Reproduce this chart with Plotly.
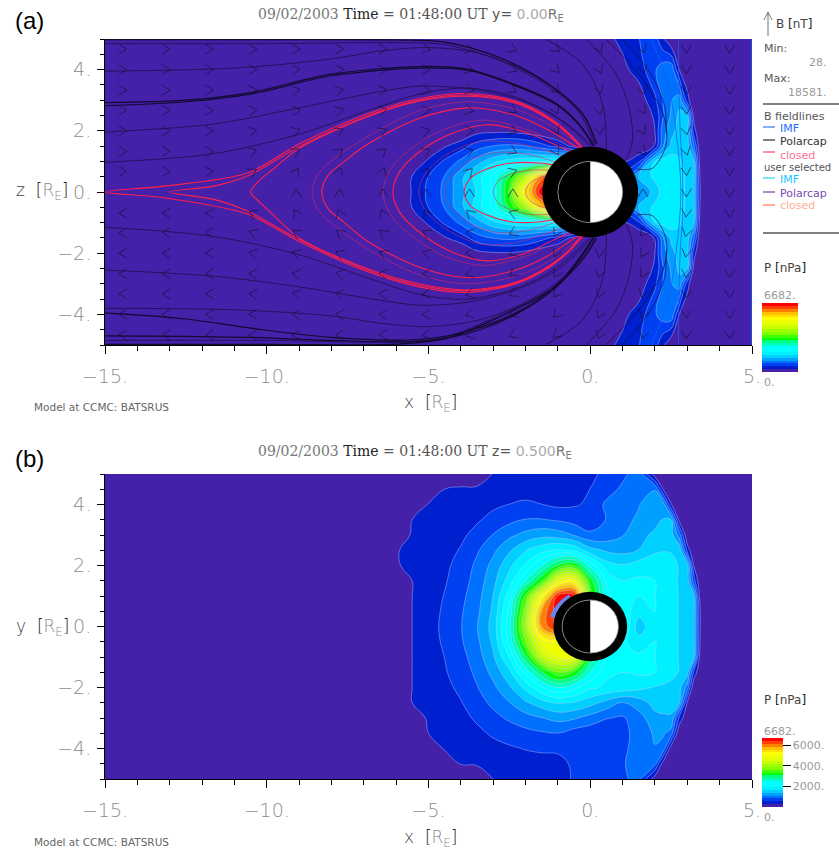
import math
import plotly.graph_objects as go

W, H = 839, 850

# ---- pressure, panel (a): P[nPa] read on an x-z grid ----
xa = [-15,-6,-5.5,-5,-4.5,-4,-3.5,-3,-2.5,-2,-1.5,-1,-.5,0,.5,1,1.5,2,2.25,2.5,2.75,3,3.2,3.4,4,5]
za = [-5,-4,-3,-2.5,-2,-1.5,-1,-.5,0,.5,1,1.5,2,2.5,3,4,5]
Pa = [
 [0,0,0,0,0,0,0,0,0,0,0,0,0,0,200,350,550, 700,300,0,0,0,0,0,0,0],
 [0,0,0,0,0,0,0,0,0,0,0,0,0,0,0,200,400, 800,1000,1050,280,0,0,0,0,0],
 [0,0,0,0,0,0,0,0,0,0,0,0,0,0,0,0,100, 500,850,1100,1300,400,0,0,0,0],
 [0,0,0,0,0,0,0,0,0,0,0,0,0,0,0,0,0, 330,800,1150,1450,1400,200,0,0,0],
 [0,0,0,0,0,0,190,240,250,180,80,0,0,0,0,0,0, 280,1000,1300,1500,1500,400,0,0,0],
 [0,0,0,0,250,420,700,850,900,850,650,450,200,0,0,0,0, 300,1100,1450,1600,1550,900,0,0,0],
 [0,0,0,340,600,900,1250,1600,1800,1900,1950,2000,1800,1200,800,200,500, 1700,1800,1850,1700,1550,1400,100,0,0],
 [0,0,290,560,850,1300,1800,2300,3100,4000,5600,6400,4000,2500,1500,800,1400, 1750,1850,1900,1800,1600,1450,200,0,0],
 [0,0,300,620,900,1300,1700,2300,3400,5300,6680,6680,4000,2500,1500,1200,1100, 1500,1800,1950,1800,1600,1450,280,0,0],
 [0,0,290,560,850,1300,1800,2300,3100,4200,6000,6680,4000,2500,1500,800,1400, 1750,1850,1900,1800,1600,1450,200,0,0],
 [0,0,0,340,600,900,1250,1600,1800,1900,1950,2000,1800,1200,800,200,500, 1700,1800,1850,1700,1550,1400,100,0,0],
 [0,0,0,0,250,420,700,850,900,850,650,450,200,0,0,0,0, 300,1100,1450,1600,1550,900,0,0,0],
 [0,0,0,0,0,0,170,200,200,130,70,0,0,0,0,0,0, 280,1000,1300,1500,1500,400,0,0,0],
 [0,0,0,0,0,0,0,0,0,0,0,0,0,0,0,0,0, 330,800,1150,1450,1400,200,0,0,0],
 [0,0,0,0,0,0,0,0,0,0,0,0,0,0,0,0,100, 500,850,1100,1300,400,0,0,0,0],
 [0,0,0,0,0,0,0,0,0,0,0,0,0,0,0,200,400, 800,1000,1050,280,0,0,0,0,0],
 [0,0,0,0,0,0,0,0,0,0,0,0,0,0,200,350,550, 700,300,0,0,0,0,0,0,0],
]

# ---- pressure, panel (b): P[nPa] read on an x-y grid ----
xb = xa
yb = [-5,-4.5,-4,-3.5,-3,-2.5,-2,-1.5,-1,-.5,0,.5,1,1.5,2,2.5,3,3.5,4,4.5,5]
Pb = [
 [0,0,0,0,0,0,0,280,320,340,360,400,600,750,800,800,900, 100,0,0,0,0,0,0,0,0],
 [0,0,0,0,100,290,320,370,400,430,450,480,600,680,750,800,1000, 900,150,0,0,0,0,0,0,0],
 [0,0,0,100,300,340,400,460,520,570,600,600,560,650,620,750,1000, 1100,1000,100,0,0,0,0,0,0],
 [0,0,0,280,340,400,490,600,680,750,800,830,700,650,600,750,950, 1150,1150,1000,0,0,0,0,0,0],
 [0,0,100,320,380,470,600,750,880,1000,1100,1200,1150,1000,850,800,1000, 1300,1350,1350,500,0,0,0,0,0],
 [0,100,280,340,430,540,720,900,1100,1350,1550,1700,1650,1500,1300,1100,1250, 1500,1500,1500,1400,250,0,0,0,0],
 [0,120,280,370,480,620,820,1050,1350,1750,2200,2500,2300,2000,1900,1850,1750, 1650,1600,1550,1500,1000,0,0,0,0],
 [0,100,280,400,530,690,900,1200,1600,2300,3000,3600,3300,2500,2000,1950,2000, 1950,1900,1800,1650,1500,500,0,0,0],
 [0,100,280,420,560,740,980,1350,1950,3000,4300,4800,4800,3000,2200,2000,2000, 1950,1900,1800,1650,1550,1400,100,0,0],
 [0,100,280,440,600,800,1050,1450,2300,3600,4900,5000,4800,3000,2300,2000,1800, 1950,1900,1800,1650,1550,1450,250,0,0],
 [0,100,280,450,620,820,1100,1500,2400,4000,5900,6500,5000,3000,2300,2300,1500, 1900,1850,1800,1650,1550,1450,280,0,0],
 [0,100,280,440,600,800,1050,1450,2300,3800,5900,6600,5500,3200,2300,2100,1800, 1950,1900,1800,1650,1550,1450,280,0,0],
 [0,100,280,420,570,760,1000,1400,2100,3400,5000,6500,6600,3500,2300,2000,1950, 1950,1900,1800,1650,1550,1400,100,0,0],
 [0,100,280,400,530,700,950,1300,1800,2500,3300,4800,5000,3200,2200,1950,2000, 1950,1850,1750,1650,1550,700,0,0,0],
 [0,270,300,370,500,650,900,1200,1600,2000,2500,3100,3300,2400,1800,1700,1800, 1900,1850,1750,1650,1550,280,0,0,0],
 [0,270,310,360,450,580,800,1050,1350,1650,1850,2000,1900,1500,1350,1300,1400, 1600,1650,1650,1600,450,0,0,0,0],
 [0,150,300,350,400,500,650,850,1050,1200,1300,1250,1100,900,950,1100,1300, 1450,1500,1500,1000,0,0,0,0,0],
 [0,0,280,330,380,430,520,650,750,850,850,800,720,650,850,1050,1150, 1300,1400,1400,200,0,0,0,0,0],
 [0,0,0,300,330,380,420,500,560,600,560,500,530,600,900,1000,1100, 1250,1300,300,0,0,0,0,0,0],
 [0,0,0,0,280,330,350,400,430,450,420,380,450,560,700,900,1000, 1100,278,0,0,0,0,0,0,0],
 [0,0,0,0,0,0,0,300,350,350,330,320,350,500,620,760,1000, 100,0,0,0,0,0,0,0,0],
]

# ---- colour levels, bottom to top of the colour bar ----
P_max = 6682
P_step = 278.4
level_colors = ["#4520A8","#0020D0","#0040F0","#0070FF","#00A0FF","#00D0FF","#00F0FF","#00FFFF",
                "#00FFFF","#00FFC0","#00FF80","#00FF00","#40FF00","#80FF00","#A0FF00","#C8FF00",
                "#E0FF00","#F0FF00","#FFFF00","#FFE000","#FFC000","#FF8000","#FF4000","#FF0000"]
cbar_ticks = [2000, 4000, 6000]
cbar_ticklabels = ["2000.", "4000.", "6000."]

# ---- field lines of panel (a): x, z above the equator, z below ----
closed_bright = [
 ([-15,-13.1,-10.6,-9,-6.9,-5.3,-3.8,-2.3,-1.25,-.64,-.23],[0,.2,.62,1.57,2.55,3.05,3.22,2.97,2.42,1.9,1.44],[0,-.2,-.72,-1.62,-2.6,-3.1,-3.28,-3,-2.45,-1.92,-1.44]),
 ([-13,-11.6,-10.6,-9,-6.9,-5.3,-3.8,-2.3,-1.25,-.64,-.23],[0,.2,.52,1.48,2.48,3,3.17,2.93,2.38,1.87,1.42],[0,-.25,-.62,-1.55,-2.55,-3.05,-3.23,-2.97,-2.42,-1.9,-1.42]),
 ([-10.5,-10.25,-9.8,-9,-6.9,-5.3,-3.8,-2.3,-1.25,-.64,-.25],[0,.35,.75,1.42,2.45,2.97,3.13,2.9,2.35,1.85,1.4],[0,-.3,-.75,-1.5,-2.5,-3,-3.2,-2.95,-2.4,-1.88,-1.4]),
 ([-8.3,-8.1,-7.6,-6.9,-5.3,-3.8,-2.3,-1.25,-.55,-.2],[0,.55,1,1.55,2.4,2.75,2.5,2,1.55,1.35],[0,-.55,-1,-1.6,-2.45,-2.8,-2.55,-2.05,-1.55,-1.35]),
 ([-6.1,-5.9,-5.3,-4.3,-3.2,-2,-1.1,-.5],[0,.65,1.3,1.9,2.2,1.95,1.55,1.25],[0,-.65,-1.3,-1.95,-2.25,-2,-1.55,-1.25]),
 ([-3.9,-3.7,-3.2,-2.4,-1.6,-.9],[0,.45,.75,.95,.95,.85],[0,-.45,-.75,-.98,-.98,-.85]),
]
closed_dim = [
 ([-8.6,-8.4,-7.9,-6.9,-5.3,-3.8,-2.3,-1.25,-.55,-.2],[0,.6,1.1,1.8,2.65,2.95,2.7,2.2,1.7,1.4],[0,-.6,-1.1,-1.85,-2.7,-3,-2.75,-2.25,-1.7,-1.4]),
 ([-6.4,-6.2,-5.5,-4.5,-3.3,-2,-1.1,-.5],[0,.7,1.45,2.05,2.35,2.05,1.65,1.3],[0,-.7,-1.45,-2.1,-2.4,-2.1,-1.65,-1.3]),
 ([-5.3,-5.1,-4.4,-3.4,-2.3,-1.2,-.7],[0,.6,1.25,1.65,1.6,1.3,1.1],[0,-.6,-1.25,-1.7,-1.65,-1.3,-1.1]),
 ([-4.5,-4.3,-3.7,-2.8,-1.8,-1],[0,.55,1.05,1.3,1.2,.95],[0,-.55,-1.05,-1.33,-1.23,-.95]),
 ([-3,-2.85,-2.4,-1.8,-1.2],[0,.35,.6,.72,.7],[0,-.35,-.6,-.74,-.72]),
 ([-2,-1.9,-1.6,-1.2],[0,.25,.45,.55],[0,-.25,-.45,-.55]),
]
polar_thick = [
 ([-15,-10,-6,-4.5,-2.8,-1.25,-.23,.2],[4.98,4.98,4.97,4.9,4.39,3.5,2.55,1.57],[-4.98,-4.98,-4.97,-4.8,-4.08,-3.23,-2.2,-1.5]),
 ([-15,-12.5,-10.5,-8,-5.3,-3.8,-2.3,-1.04,-.33,.1],[2.92,3,3.25,3.85,4.1,4.02,3.5,2.88,2.2,1.52],[-3.95,-4.15,-4.45,-4.75,-4.82,-4.55,-3.95,-3.05,-2.15,-1.48]),
 ([-15,-12.5,-10.5,-8,-5.3,-3.8,-2.3,-1.04,-.33,.1],[2.82,2.95,3.2,3.8,4.05,3.98,3.47,2.85,2.17,1.5],[-4.7,-4.72,-4.75,-4.85,-4.88,-4.62,-4,-3.1,-2.2,-1.5]),
]
polar_thin = [
 ([-15,-10,-6,-4.5,-2.8,-1.25,-.23,.15],[4.85,4.85,4.88,4.82,4.3,3.42,2.5,1.55],[-4.85,-4.85,-4.9,-4.75,-4.02,-3.18,-2.15,-1.5]),
 ([-15,-11,-8,-6.4,-5,-3.5,-2,-.9,-.25,.12],[3.95,4.05,4.35,4.62,4.72,4.55,3.95,3.2,2.45,1.53],[-3.8,-3.85,-4.05,-4.3,-4.4,-4.2,-3.6,-2.85,-2.1,-1.48]),
 ([-15,-11.66,-9,-6.4,-5.27,-3.8,-2.3,-1.1,-.4,.05],[1.96,2.22,2.75,3.3,3.46,3.38,3.05,2.5,1.95,1.5],[-2.55,-2.75,-3.1,-3.55,-3.7,-3.6,-3.2,-2.6,-2,-1.48]),
 ([-15,-11.66,-9,-6.9,-5.27,-3.8,-2.3,-1.15,-.45,0],[.97,1.25,1.89,2.65,3.2,3.4,3.1,2.5,1.95,1.48],[-1.15,-1.45,-2.05,-2.8,-3.35,-3.5,-3.15,-2.55,-1.95,-1.47]),
 ([-1.35,-.23,.38,.5],[4.98,4.17,2.87,1.4],[-4.98,-4.17,-2.87,-1.4]),
 ([-.1,.8,1.2,1.3,1.1],[4.98,3.85,2.75,1.67,1.05],[-4.98,-3.85,-2.75,-1.67,-1.05]),
 ([.5,1.5,2.25,2.35,1.93,1.43],[4.98,3.85,2.55,1.57,.78,.75],[-4.98,-3.85,-2.55,-1.57,-.78,-.75]),
 ([1,1.85,2.3,2.35],[4.98,3.9,2.8,1.9],[-4.98,-3.9,-2.8,-1.9]),
]
imf_lines = [
 ([2.73,2.73,2.78,2.85,2.85,2.78,2.73,2.73],[5,4,2,.8,-.8,-2,-4,-5]),
 ([1.9,2.4,2.65,2.8,2.65,2.4,1.9],[5,3.5,2,0,-2,-3.5,-5]),
 ([4.98,4.98],[-5,5]),
]

# ---- patch of panel (b) hugging the earth ----
patch_x = [-.62,-.85,-1.05,-1.17]
patch_y = [.98,.8,.55,.3]

# ---- direction chevrons of panel (a), angle in degrees; None = no chevron ----
chev_x = [-14.45,-13.11,-11.77,-10.43,-9.09,-7.75,-6.41,-5.07,-3.73,-2.39,-1.05,.29,1.63,2.97,4.31]
chev_z = [4.67,4,3.33,2.67,2,1.33,.67,-.03,-.69,-1.33,-2,-2.67,-3.33,-4,-4.67]
chev_angle = [
 [0,0,0,0,0,0,0,-10,-15,-25,-40,-65,-70,-90,-90],
 [0,0,0,0,5,5,5,-5,-15,-25,-45,-65,-75,-90,-90],
 [0,0,0,5,10,10,5,-5,-15,-30,-50,-70,-75,-90,-90],
 [0,0,0,5,10,15,10,0,-15,-35,-60,-75,-60,-85,-90],
 [0,0,0,10,20,25,25,15,0,-25,-65,-85,-60,-80,-90],
 [0,0,0,20,30,40,40,30,15,-25,-60,None,-45,-75,-90],
 [0,0,5,30,60,70,70,60,45,20,None,None,None,-85,-90],
 [None,None,None,None,90,90,90,90,90,90,None,None,90,-90,-90],
 [180,180,175,150,120,110,110,120,135,160,None,None,None,-95,-90],
 [180,180,180,160,150,140,140,150,165,205,240,None,225,-105,-90],
 [180,180,180,170,160,155,155,165,180,205,245,265,240,-100,-90],
 [180,180,180,175,170,165,170,180,195,215,240,255,240,-95,-90],
 [180,180,180,175,170,170,175,185,195,210,230,250,255,-90,-90],
 [180,180,180,180,175,175,175,185,195,205,225,245,255,-90,-90],
 [180,180,180,180,180,180,180,190,195,205,220,245,250,-90,-90],
]

# ---- earth ----
ring_a, day_a = 1.48, 1.0
ring_b, day_b = 1.14, 0.87

# ---- text ----
x_ticks, x_labels = [-15,-10,-5,0,5], ["\u221215.","\u221210.","\u22125.","0.","5."]
y_ticks, y_labels = [-4,-2,0,2,4], ["\u22124.","\u22122.","0.","2.","4."]
minor_x = [-14,-13,-12,-11,-9,-8,-7,-6,-4,-3,-2,-1,1,2,3,4]
minor_y = [-5,-4.5,-3.5,-3,-2.5,-1.5,-1,-.5,.5,1,1.5,2.5,3,3.5,4.5,5]

GRAY = "#9a9a9a"
DARK = "#555555"
SANS = "DejaVu Sans"
SERIF = "DejaVu Serif"
LIGHT = "DejaVu Sans Light, DejaVu Sans ExtraLight, DejaVu Sans"

def px(x): return x / W
def py(y): return 1 - y / H

stops = []
n = len(level_colors)
for i, c in enumerate(level_colors):
    stops += [[i / n, c], [(i + 1) / n, c]]

def pressure(x, y, z, xaxis, yaxis, cbar):
    levels = dict(start=P_step, end=P_step * (n - 1), size=P_step)
    fill = go.Contour(x=x, y=y, z=z, xaxis=xaxis, yaxis=yaxis, zmin=0, zmax=P_max, autocontour=False,
                      contours=dict(coloring="fill", showlines=False, **levels),
                      line=dict(width=0, smoothing=1.2), colorscale=stops, colorbar=cbar, hoverinfo="skip")
    rims = go.Contour(x=x, y=y, z=z, xaxis=xaxis, yaxis=yaxis, autocontour=False, showscale=False,
                      contours=dict(coloring="none", showlines=True, **levels),
                      line=dict(color="rgba(195,205,255,0.42)", width=1, smoothing=1.2), hoverinfo="skip")
    return [fill, rims]

cb_a = dict(x=px(762), xanchor="left", y=py(372), yanchor="bottom", thickness=36, thicknessmode="pixels",
            len=69, lenmode="pixels", xpad=0, ypad=0, outlinewidth=0, showticklabels=False, ticks="")
cb_b = dict(x=px(762), xanchor="left", y=py(807), yanchor="bottom", thickness=21, thicknessmode="pixels",
            len=69, lenmode="pixels", xpad=0, ypad=0, outlinewidth=0, tickmode="array", tickvals=cbar_ticks,
            ticktext=cbar_ticklabels, ticks="outside", ticklen=8, tickcolor="black", tickwidth=1,
            tickfont=dict(family=SANS, size=11, color=GRAY))

fig = go.Figure()
fig.add_traces(pressure(xa, za, Pa, "x", "y", cb_a))
fig.add_traces(pressure(xb, yb, Pb, "x2", "y2", cb_b))
fig.add_trace(go.Scatter(x=patch_x, y=patch_y, mode="lines", xaxis="x2", yaxis="y2", hoverinfo="skip",
                         line=dict(color="#6A85F0", width=5, shape="spline")))

def add_open(lines, color, width):
    for x, up, down in lines:
        for zz in (up, down):
            fig.add_trace(go.Scatter(x=x, y=zz, mode="lines", xaxis="x", yaxis="y", hoverinfo="skip",
                                     line=dict(color=color, width=width, shape="spline", smoothing=0.9)))

def add_closed(lines, color, width):
    for x, up, down in lines:
        fig.add_trace(go.Scatter(x=x[::-1] + x[1:], y=up[::-1] + down[1:], mode="lines", xaxis="x", yaxis="y",
                                 hoverinfo="skip", line=dict(color=color, width=width, shape="spline", smoothing=0.9)))

add_open(polar_thin, "rgba(20,10,50,0.8)", 0.8)
add_open(polar_thick, "#120A30", 1.2)
add_closed(closed_dim, "rgba(225,40,100,0.6)", 0.9)
add_closed(closed_bright, "#FF1F4B", 1.1)
for x, z in imf_lines:
    fig.add_trace(go.Scatter(x=x, y=z, mode="lines", xaxis="x", yaxis="y", hoverinfo="skip",
                             line=dict(color="rgba(15,99,240,0.85)", width=0.9, shape="spline")))

# chevrons: a tip and two legs, sized on screen and converted through the axis scales
sx, sy = 647 / 20, 306 / 10
cx, cy = [], []
for r, z0 in enumerate(chev_z):
    for c, x0 in enumerate(chev_x):
        a = chev_angle[r][c]
        if a is None:
            continue
        t = math.radians(a)
        l1, l2 = t + math.radians(148), t - math.radians(148)
        L = 9.5
        tipx, tipy = x0 + 4 * math.cos(t) / sx, z0 + 4 * math.sin(t) / sy
        cx += [tipx + L * math.cos(l1) / sx, tipx, tipx + L * math.cos(l2) / sx, None]
        cy += [tipy + L * math.sin(l1) / sy, tipy, tipy + L * math.sin(l2) / sy, None]
fig.add_trace(go.Scatter(x=cx, y=cy, mode="lines", xaxis="x", yaxis="y", hoverinfo="skip", connectgaps=False,
                         line=dict(color="rgba(20,15,45,0.8)", width=0.8)))

# ---- shapes ----
shapes = []
K = 0.5523
def earth(xr, yr, ring, day):
    shapes.append(dict(type="circle", xref=xr, yref=yr, x0=-ring, x1=ring, y0=-ring, y1=ring,
                       fillcolor="black", line=dict(width=0)))
    shapes.append(dict(type="circle", xref=xr, yref=yr, x0=-day, x1=day, y0=-day, y1=day,
                       fillcolor="white", line=dict(width=0)))
    d = day
    path = f"M 0,{-d} C {-K*d},{-d} {-d},{-K*d} {-d},0 C {-d},{K*d} {-K*d},{d} 0,{d} Z"
    shapes.append(dict(type="path", xref=xr, yref=yr, path=path, fillcolor="black", line=dict(width=0)))
    shapes.append(dict(type="circle", xref=xr, yref=yr, x0=-day, x1=day, y0=-day, y1=day,
                       line=dict(color="#999999", width=0.8)))
earth("x", "y", ring_a, day_a)
earth("x2", "y2", ring_b, day_b)

def seg(x0, y0, x1, y1, color="black", width=1):
    shapes.append(dict(type="line", xref="paper", yref="paper", x0=px(x0), x1=px(x1), y0=py(y0), y1=py(y1),
                       line=dict(color=color, width=width), layer="above"))
seg(768, 36, 768, 12, "#777777"); seg(768, 12, 764, 20, "#777777"); seg(768, 12, 772, 20, "#777777")
seg(763, 104, 839, 104); seg(763, 233, 839, 233)
for yy, col in [(127, "#1060F0"), (140, "black"), (152, "#FF2050"), (178, "#00C8FF"), (192, "#5A2090"), (205, "#FF6020")]:
    seg(763, yy, 775, yy, col)

# ---- text ----
ann = []
def text(x, y, s, color=DARK, size=11, family=SANS, anchor="left"):
    ann.append(dict(x=px(x), y=py(y), xref="paper", yref="paper", text=s, showarrow=False, xanchor=anchor,
                    yanchor="middle", font=dict(family=family, size=size, color=color), borderpad=0))

text(14, 21, "(a)", "black", 24, "Liberation Sans")
text(14, 458, "(b)", "black", 24, "Liberation Sans")
def title(y, slice_text):
    text(257, y, "<span style='color:#777'>09/02/2003</span> <span style='color:#222'>Time</span> "
         "<span style='color:#555'>= 01:48:00 UT</span> " + slice_text, "#555", 14, SERIF)
title(15, "<span style='font-family:DejaVu Sans;color:#555'>y=</span> <span style='font-family:DejaVu Sans;color:#aaa'>0.00</span><span style='font-family:DejaVu Sans;color:#777'>R<sub>E</sub></span>")
title(452, "<span style='font-family:DejaVu Sans;color:#555'>z=</span> <span style='font-family:DejaVu Sans;color:#aaa'>0.500</span><span style='font-family:DejaVu Sans;color:#777'>R<sub>E</sub></span>")

RE = "<span style='color:#222'>[</span><span style='color:#888'>R<sub>E</sub></span><span style='color:#222'>]</span>"
text(15, 192, "z  " + RE, "#444", 17, LIGHT)
text(15, 627, "y  " + RE, "#444", 17, LIGHT)
text(403, 403, "x  " + RE, "#444", 17, LIGHT)
text(403, 838, "x  " + RE, "#444", 17, LIGHT)
text(33, 407, "Model at CCMC: BATSRUS", "#666", 10.5)
text(33, 842, "Model at CCMC: BATSRUS", "#666", 10.5)

text(775, 24, "B <span style='color:#222'>[</span>nT<span style='color:#222'>]</span>", "#444", 12)
text(763, 48, "Min:")
text(828, 62, "28.", GRAY, anchor="right")
text(763, 78, "Max:")
text(828, 92, "18581.", GRAY, anchor="right")
text(763, 116, "B fieldlines")
text(779, 129, "IMF", "#1E6CFF")
text(779, 142, "Polarcap", "#333")
text(779, 155, "closed", "#FF7090")
text(763, 167, "user selected", DARK, 10)
text(779, 179, "IMF", "#18C8FF")
text(779, 193, "Polarcap", "#7A4AB0")
text(779, 205, "closed", "#FFB090")
text(763, 268, "P <span style='color:#222'>[</span>nPa<span style='color:#222'>]</span>", "#444", 12)
text(763, 296, "6682.", GRAY)
text(763, 382, "0.", GRAY)
text(763, 700, "P <span style='color:#222'>[</span>nPa<span style='color:#222'>]</span>", "#444", 12)
text(763, 731, "6682.", GRAY)
text(763, 817, "0.", GRAY)

TICKFONT = dict(family=LIGHT, size=19, color="#8c8c8c")
def xaxis(anchor):
    return dict(domain=[px(105), px(752)], range=[-15, 5], anchor=anchor, showgrid=False, zeroline=False,
                showline=True, linecolor="black", linewidth=1, ticks="outside", ticklen=8, tickcolor="black",
                tickmode="array", tickvals=x_ticks, ticktext=x_labels, ticklabelstandoff=6, tickfont=TICKFONT,
                minor=dict(tickmode="array", tickvals=minor_x, ticks="outside", ticklen=5, tickcolor="black", showgrid=False))
def yaxis(anchor, top, bottom):
    return dict(domain=[py(bottom), py(top)], range=[-5, 5], anchor=anchor, showgrid=False, zeroline=False,
                showline=True, linecolor="black", linewidth=1, ticks="outside", ticklen=7, tickcolor="black",
                tickmode="array", tickvals=y_ticks, ticktext=y_labels, ticklabelstandoff=2, tickfont=TICKFONT,
                minor=dict(tickmode="array", tickvals=minor_y, ticks="outside", ticklen=4, tickcolor="black", showgrid=False))

fig.update_layout(
    width=W, height=H, autosize=False, margin=dict(l=0, r=0, t=0, b=0, autoexpand=False), paper_bgcolor="white",
    plot_bgcolor="#4520A8", showlegend=False, shapes=shapes, annotations=ann,
    xaxis=xaxis("y"), yaxis=yaxis("x", 39, 345), xaxis2=xaxis("y2"), yaxis2=yaxis("x2", 474, 779))
fig.write_html("out.html", config=dict(displayModeBar=False), post_script="document.body.style.margin='0';")
